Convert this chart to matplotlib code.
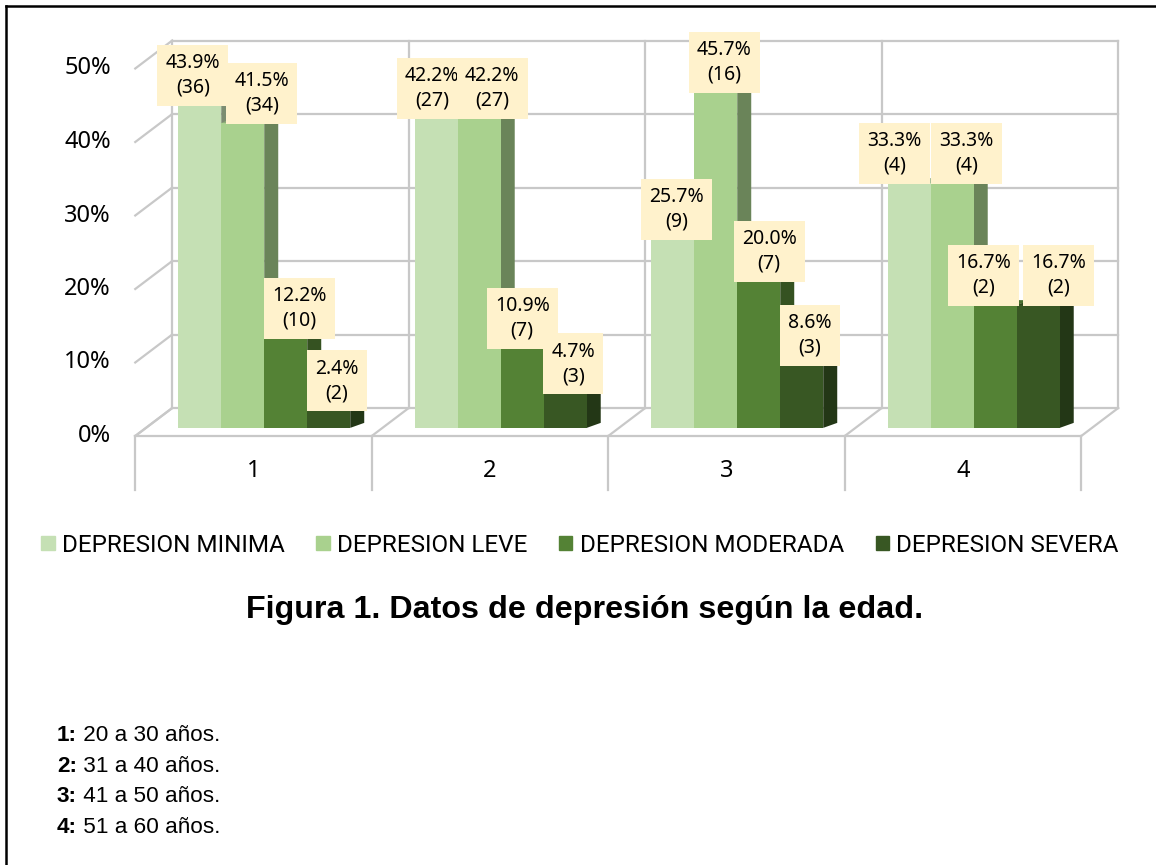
import numpy as np
import matplotlib
matplotlib.use('Agg')
import matplotlib.pyplot as plt
from matplotlib.patches import Polygon, Patch
from matplotlib.lines import Line2D

# datos
grupos = ['1', '2', '3', '4']
series = ['DEPRESION MINIMA', 'DEPRESION LEVE', 'DEPRESION MODERADA', 'DEPRESION SEVERA']
minima_pct = [43.9, 42.2, 25.7, 33.3]
leve_pct = [41.5, 42.2, 45.7, 33.3]
moderada_pct = [12.2, 10.9, 20.0, 16.7]
severa_pct = [2.4, 4.7, 8.6, 16.7]
minima_n = [36, 27, 9, 4]
leve_n = [34, 27, 16, 4]
moderada_n = [10, 7, 7, 2]
severa_n = [2, 3, 3, 2]
yticks = [0, 10, 20, 30, 40, 50]
rangos = ['20 a 30 años.', '31 a 40 años.', '41 a 50 años.', '51 a 60 años.']

pcts = [minima_pct, leve_pct, moderada_pct, severa_pct]
ns = [minima_n, leve_n, moderada_n, severa_n]
colores = ['#C5E0B4', '#A9D18E', '#548235', '#385723']

# desplazamiento manual de las etiquetas (px), como en el original
lbl_dx = [[-7, -4, 3.5, -14.5],
          [19, 13, 8.5, 14.5],
          [14, 0, 10.5, -11.5],
          [8, 8, 8, 20.5]]

W, H = 1156, 865
fig = plt.figure(figsize=(W / 100, H / 100), dpi=100)
ax = fig.add_axes([0, 0, 1, 1])
ax.axis('off')

# escala: centro de categoria 1 en x=253.5 px, 0% en y=436 px
cx1, pcat = 253.5, 236.5
y0, ppct = 436, 7.35
ax.set_xlim(1 - cx1 / pcat, 1 + (W - cx1) / pcat)
ax.set_ylim((y0 - H) / ppct, y0 / ppct)

def px2x(px):
    return 1 + (px - cx1) / pcat

DX, DY = 37 / pcat, 28 / ppct          # profundidad de paredes
bx, by = 0.29 * DX, 0.29 * DY          # posicion de las barras en profundidad
bdx, bdy = 14 / pcat, 5 / ppct         # profundidad de cada barra
w = 43 / pcat

gc = '#C8C8C8'
glw = 1.6
ymax = yticks[-1]
for t in yticks:
    ax.plot([0.5 + DX, 4.5 + DX], [t + DY, t + DY], color=gc, lw=glw, zorder=1)
    ax.plot([0.5, 0.5 + DX], [t, t + DY], color=gc, lw=glw, zorder=1)
for k in range(5):
    ax.plot([0.5 + k + DX] * 2, [DY, ymax + DY], color=gc, lw=glw, zorder=1)
    ax.plot([0.5 + k, 0.5 + k + DX], [0, DY], color=gc, lw=glw, zorder=1)
    ax.plot([0.5 + k] * 2, [0, -7.3], color=gc, lw=glw, zorder=1)
ax.plot([0.5, 4.5], [0, 0], color=gc, lw=glw, zorder=1)

def shade(c, f):
    r, g, b = matplotlib.colors.to_rgb(c)
    return (r * f, g * f, b * f)

x = np.arange(1, len(grupos) + 1)
for j, vals in enumerate(pcts):
    xc = x + (j - 1.5) * w + bx
    z = 3 + j
    ax.bar(xc, vals, width=w, bottom=by, color=colores[j], zorder=z + 0.5)
    for i, v in enumerate(vals):
        xl, xr = xc[i] - w / 2, xc[i] + w / 2
        top = by + v
        ax.add_patch(Polygon([(xr, by), (xr + bdx, by + bdy), (xr + bdx, top + bdy), (xr, top)],
                             closed=True, fc=shade(colores[j], 0.63), ec='none', zorder=z))
        ax.add_patch(Polygon([(xl, top), (xr, top), (xr + bdx, top + bdy), (xl + bdx, top + bdy)],
                             closed=True, fc=shade(colores[j], 0.85), ec='none', zorder=z))
        ax.annotate(f'{v:.1f}%\n({ns[j][i]})', xy=(xc[i], top),
                    xytext=(lbl_dx[j][i] * 0.72, 5.2), textcoords='offset points',
                    ha='center', va='bottom', fontsize=14, linespacing=1.3,
                    family=['Noto Sans', 'DejaVu Sans'], zorder=10,
                    bbox=dict(boxstyle='square,pad=0.42', fc='#FFF2CC', ec='none'))

for t in yticks:
    ax.text(px2x(111), t, f'{t}%', ha='right', va='center', fontsize=17,
            family=['Noto Sans', 'DejaVu Sans'])
for i, g in enumerate(grupos):
    ax.text(x[i], -4.7, g, ha='center', va='center', fontsize=17,
            family=['Noto Sans', 'DejaVu Sans'])

handles = [Patch(color=c) for c in colores]
fig.legend(handles, series, ncol=4, loc='center', bbox_to_anchor=(580 / W, 1 - 545 / H),
           frameon=False, prop={'family': 'Roboto', 'size': 17.5},
           handlelength=0.55, handleheight=0.55, handletextpad=0.3, columnspacing=1.3)

fig.text(585 / W, 1 - 610 / H, 'Figura 1. Datos de depresión según la edad.',
         ha='center', va='center', fontsize=23.2, fontweight='bold', family='Liberation Sans')

for i, r in enumerate(rangos):
    t1 = fig.text(57 / W, 1 - (741 + 30.7 * i) / H, f'{grupos[i]}:', ha='left', va='baseline',
                  fontsize=16.2, fontweight='bold', family='Liberation Sans')
    ax.annotate(' ' + r, xy=(1, 0), xycoords=t1, ha='left', va='bottom',
                fontsize=16.2, family='Liberation Sans')

# marco
fig.add_artist(Line2D([5.5 / W, 1], [1 - 5.5 / H] * 2, transform=fig.transFigure, color='black', lw=1.8))
fig.add_artist(Line2D([5.5 / W] * 2, [0, 1 - 5.5 / H], transform=fig.transFigure, color='black', lw=1.8))

fig.savefig('out.png', dpi=100)
